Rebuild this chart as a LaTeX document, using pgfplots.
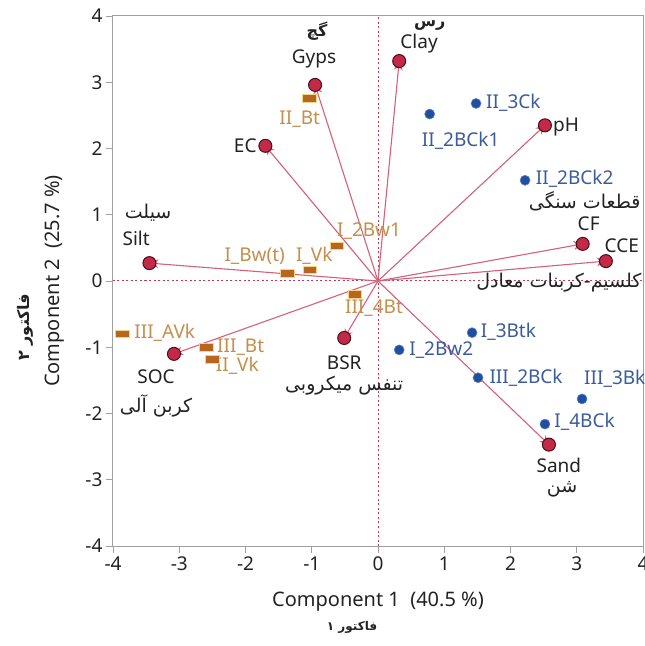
\documentclass[border=0pt]{standalone}
\usepackage{pgfplots}
\pgfplotsset{compat=1.18}
\usepackage{pgfplotstable}
\usepackage{fontspec}
\setmainfont{Noto Sans}
\newfontfamily\fa[Script=Arabic]{DejaVu Sans}
\usetikzlibrary{arrows.meta}
\TeXXeTstate=1

\definecolor{vecline}{HTML}{D4607A}
\definecolor{vecdot}{HTML}{C42A48}
\definecolor{vecedge}{HTML}{4A0E1A}
\definecolor{orgsq}{HTML}{B8661E}
\definecolor{orgedge}{HTML}{F2D48A}
\definecolor{orgtxt}{HTML}{C48E4C}
\definecolor{bluept}{HTML}{1F4FA0}
\definecolor{bluetxt}{HTML}{3B5C9C}
\definecolor{axgray}{HTML}{A0A0A0}
\definecolor{zeroline}{HTML}{C23A55}
\definecolor{txt}{HTML}{222222}

\newcommand{\fas}{\fontsize{19}{22}\selectfont}

\pgfplotstableread{
x0 y0 x y
0 0 -0.95 2.96
0 0 0.32 3.32
0 0 -1.70 2.04
0 0 2.52 2.35
0 0 3.09 0.56
0 0 3.44 0.30
0 0 -3.45 0.27
0 0 -3.08 -1.10
0 0 -0.51 -0.86
0 0 2.58 -2.47
}\vectors

\pgfplotstableread{
x y
-1.04 2.76
-0.62 0.53
-1.37 0.12
-1.03 0.17
-0.35 -0.20
-3.86 -0.80
-2.59 -1.00
-2.50 -1.18
}\orangepts

\pgfplotstableread{
x y
0.78 2.52
1.48 2.68
2.22 1.52
1.42 -0.78
0.32 -1.04
1.51 -1.46
3.08 -1.78
2.52 -2.16
}\bluepts

\begin{document}
\begin{tikzpicture}[font=\fontsize{19}{22}\selectfont]
\begin{axis}[
  width=530pt, height=530pt, scale only axis,
  xmin=-4, xmax=4, ymin=-4, ymax=4,
  xtick={-4,-3,-2,-1,0,1,2,3,4},
  ytick={-4,-3,-2,-1,0,1,2,3,4},
  xticklabels={-4,-3,-2,-1,0,1,2,3,4},
  yticklabels={-4,-3,-2,-1,0,1,2,3,4},
  tick align=outside, tick pos=left,
  major tick length=7pt,
  axis line style={axgray, line width=1pt},
  tick style={axgray, line width=0.8pt},
  ticklabel style={text=txt, font=\fontsize{19}{22}\selectfont},
  clip=false,
]
% zero lines
\addplot[zeroline, line width=1pt, dash pattern=on 2pt off 2.5pt] coordinates {(0,-4) (0,4)};
\addplot[zeroline, line width=1pt, dash pattern=on 2pt off 2.5pt] coordinates {(-4,0) (4,0)};
% vectors
\addplot[vecline, line width=1.1pt,
  quiver={u=\thisrow{x}, v=\thisrow{y},
    every arrow/.append style={-{Stealth[length=9pt,width=9pt]}}}]
  table[x=x0, y=y0] {\vectors};
\addplot[only marks, mark=*, mark size=6.5pt,
  mark options={fill=vecdot, draw=vecedge, line width=1pt}]
  table[x=x, y=y] {\vectors};
% orange squares
\addplot[only marks, mark=square*, mark size=3.8pt,
  mark options={xscale=1.8, fill=orgsq, draw=orgedge, line width=0.6pt}]
  table[x=x, y=y] {\orangepts};
% blue points
\addplot[only marks, mark=*, mark size=5pt,
  mark options={fill=bluept, draw=bluept!70!white, line width=0.6pt}]
  table[x=x, y=y] {\bluepts};

% vector labels
\begin{scope}[every node/.style={text=txt, inner sep=0pt}]
\node at (axis cs:-0.966,3.35) {Gyps};
\node at (axis cs:-0.92,3.77) {\fontsize{16}{18}\selectfont\fa\bfseries گچ};
\node at (axis cs:0.62,3.58) {Clay};
\node at (axis cs:0.78,3.86) {\fontsize{16}{18}\selectfont\fa\bfseries رس};
\node[anchor=east] at (axis cs:-1.83,2.04) {EC};
\node[anchor=west] at (axis cs:2.64,2.32) {pH};
\node at (axis cs:3.18,0.86) {CF};
\node at (axis cs:3.12,1.21) {\fas\fa\beginR قطعات سنگی\endR};
\node at (axis cs:3.68,0.53) {CCE};
\node at (axis cs:2.73,-0.02) {\fas\fa\beginR کلسیم-کربنات معادل\endR};
\node at (axis cs:-3.65,0.65) {Silt};
\node at (axis cs:-3.47,1.03) {\fas\fa سیلت};
\node at (axis cs:-3.35,-1.45) {SOC};
\node at (axis cs:-3.35,-1.89) {\fas\fa\beginR کربن آلی\endR};
\node at (axis cs:-0.51,-1.24) {BSR};
\node at (axis cs:-0.51,-1.58) {\fas\fa\beginR تنفس میکروبی\endR};
\node at (axis cs:2.73,-2.79) {Sand};
\node at (axis cs:2.78,-3.14) {\fas\fa شن};
\end{scope}

% orange labels
\begin{scope}[every node/.style={text=orgtxt, inner sep=0pt, anchor=west}]
\node at (axis cs:-1.49,2.45) {II\_Bt};
\node at (axis cs:-0.62,0.75) {I\_2Bw1};
\node at (axis cs:-2.32,0.38) {I\_Bw(t)};
\node at (axis cs:-1.24,0.38) {I\_Vk};
\node at (axis cs:-0.50,-0.41) {III\_4Bt};
\node at (axis cs:-3.68,-0.78) {III\_AVk};
\node at (axis cs:-2.43,-1.00) {III\_Bt};
\node at (axis cs:-2.45,-1.28) {II\_Vk};
\end{scope}

% blue labels
\begin{scope}[every node/.style={text=bluetxt, inner sep=0pt, anchor=west}]
\node at (axis cs:0.66,2.11) {II\_2BCk1};
\node at (axis cs:1.63,2.69) {II\_3Ck};
\node at (axis cs:2.38,1.54) {II\_2BCk2};
\node at (axis cs:1.55,-0.77) {I\_3Btk};
\node at (axis cs:0.47,-1.04) {I\_2Bw2};
\node at (axis cs:1.68,-1.46) {III\_2BCk};
\node at (axis cs:3.11,-1.48) {III\_3Bk};
\node at (axis cs:2.66,-2.13) {I\_4BCk};
\end{scope}

% axis titles
\node[text=txt, inner sep=0pt, font=\fontsize{20}{22}\selectfont] at ([yshift=-56pt]rel axis cs:0.5,0) {Component 1\ \ (40.5 \%)};
\node[text=txt, inner sep=0pt] at ([yshift=-81pt]rel axis cs:0.451,0) {\fontsize{12}{14}\selectfont\fa\bfseries\beginR فاکتور ۱\endR};
\node[text=txt, inner sep=0pt, rotate=90, font=\fontsize{20}{22}\selectfont] at ([xshift=-58pt]rel axis cs:0,0.5) {Component 2\ \ (25.7 \%)};
\node[text=txt, inner sep=0pt, rotate=90] at ([xshift=-88pt]rel axis cs:0,0.413) {\fontsize{16}{18}\selectfont\fa\bfseries\beginR فاکتور ۲\endR};
\end{axis}
\pgfresetboundingbox
\path ([xshift=-113pt,yshift=-100pt]current axis.south west) rectangle ([xshift=2pt,yshift=16pt]current axis.north east);
\end{tikzpicture}
\end{document}
